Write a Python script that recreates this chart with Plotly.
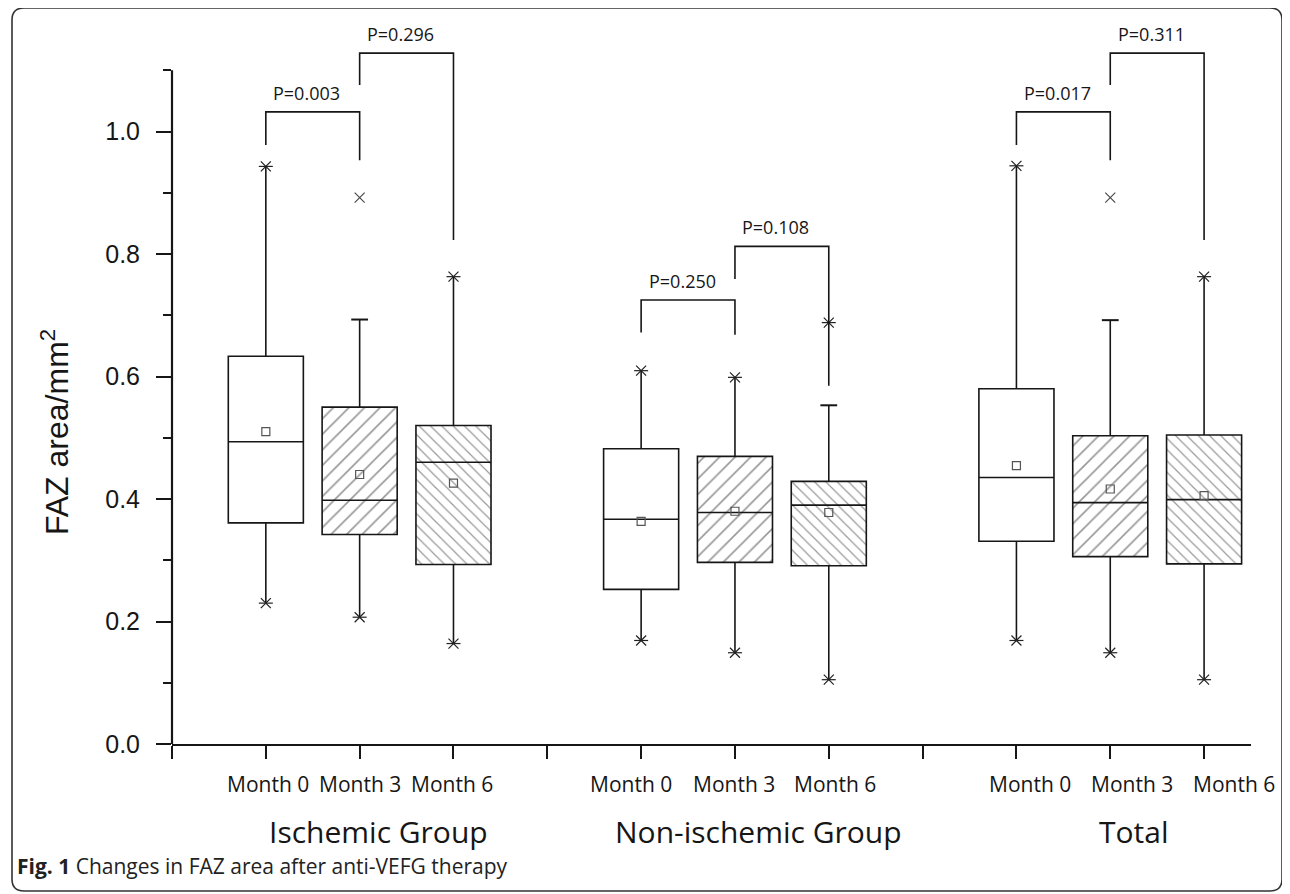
import plotly.graph_objects as go

# ---------------- data ----------------
groups = ["Ischemic Group", "Non-ischemic Group", "Total"]
months = ["Month 0", "Month 3", "Month 6"]

q1 = [0.361, 0.342, 0.293, 0.2525, 0.2965, 0.291, 0.331, 0.306, 0.294]
median = [0.4935, 0.398, 0.460, 0.367, 0.378, 0.390, 0.435, 0.394, 0.399]
q3 = [0.633, 0.550, 0.520, 0.482, 0.4696, 0.4288, 0.580, 0.5033, 0.5045]
mean = [0.510, 0.440, 0.426, 0.3635, 0.380, 0.378, 0.4544, 0.4163, 0.4054]
whisk_lo = [0.230, 0.207, 0.164, 0.169, 0.149, 0.105, 0.169, 0.149, 0.105]
whisk_hi = [0.943, 0.693, 0.763, 0.6095, 0.5986, 0.553, 0.944, 0.692, 0.763]
hi_is_cap = [False, True, False, False, False, True, False, True, False]

# extra points beyond whiskers: (box index, value, kind)
extra_box = [1, 5, 7]
extra_val = [0.892, 0.688, 0.892]
extra_kind = ["x", "star", "x"]

# significance brackets
p_text = ["P=0.003", "P=0.296", "P=0.250", "P=0.108", "P=0.017", "P=0.311"]
p_left = [0, 1, 3, 4, 6, 7]     # box index of left leg
p_right = [1, 2, 4, 5, 7, 8]    # box index of right leg
p_top = [1.032, 1.128, 0.725, 0.8125, 1.032, 1.128]
p_left_end = [0.978, 1.076, 0.672, 0.759, 0.978, 1.076]
p_right_end = [0.953, 0.823, 0.668, 0.585, 0.953, 0.823]

y_ticks = [0.0, 0.2, 0.4, 0.6, 0.8, 1.0]
y_minor = [0.1, 0.3, 0.5, 0.7, 0.9, 1.1]
y_axis_top = 1.1

# ---------------- layout geometry ----------------
# the page places the figure 8 px from the top-left corner of the window
OFF = 8
FW, FH = 1290 - OFF, 894 - OFF
L, R, T, B = 172 - OFF, 39, 9 - OFF, 150
PW, PH = FW - L - R, FH - T - B


def pxx(x):
    """window pixel x -> paper x"""
    return (x - OFF - L) / PW


def pxy(y):
    """window pixel y -> paper y"""
    return (FH - B - (y - OFF)) / PH


GROUP_GAP = 4
pos = [g * GROUP_GAP + m for g in range(len(groups)) for m in range(len(months))]
sep = [g * GROUP_GAP - 1 for g in range(len(groups))]
HALF = 0.4
INK = "#161616"

hatch = ["", "/", "\\"] * len(groups)
hatch_size = [10, 11, 8] * len(groups)

fig = go.Figure()

# boxes (hatched bars from q1 to q3)
fig.add_trace(go.Bar(
    x=pos, y=[b - a for a, b in zip(q1, q3)], base=q1, width=2 * HALF,
    marker=dict(color="white", line=dict(color=INK, width=1.6),
                pattern=dict(shape=hatch, size=hatch_size, solidity=0.15,
                             fgcolor="#333333", bgcolor="white", fillmode="overlay")),
    hoverinfo="skip"))

# medians
mx, my = [], []
for p, m in zip(pos, median):
    mx += [p - HALF, p + HALF, None]
    my += [m, m, None]
fig.add_trace(go.Scatter(x=mx, y=my, mode="lines", line=dict(color=INK, width=1.6),
                         hoverinfo="skip"))

# whiskers
wx, wy = [], []
for p, a, b, lo, hi in zip(pos, q1, q3, whisk_lo, whisk_hi):
    wx += [p, p, None, p, p, None]
    wy += [b, hi, None, a, lo, None]
fig.add_trace(go.Scatter(x=wx, y=wy, mode="lines", line=dict(color=INK, width=1.6),
                         hoverinfo="skip"))

# whisker end markers
star_x = list(pos)
star_y = list(whisk_lo)
cap_x, cap_y = [], []
for p, hi, c in zip(pos, whisk_hi, hi_is_cap):
    if c:
        cap_x.append(p)
        cap_y.append(hi)
    else:
        star_x.append(p)
        star_y.append(hi)
xo_x, xo_y = [], []
for i, v, k in zip(extra_box, extra_val, extra_kind):
    if k == "star":
        star_x.append(pos[i])
        star_y.append(v)
    else:
        xo_x.append(pos[i])
        xo_y.append(v)

for sym in ["x-thin-open", "line-ew-open"]:
    fig.add_trace(go.Scatter(x=star_x, y=star_y, mode="markers",
                             marker=dict(symbol=sym, size=10, color="#222",
                                         line=dict(color="#222", width=1.2)),
                             hoverinfo="skip"))
fig.add_trace(go.Scatter(x=xo_x, y=xo_y, mode="markers",
                         marker=dict(symbol="x-thin-open", size=10, color="#444",
                                     line=dict(color="#444", width=1.1)),
                         hoverinfo="skip"))
fig.add_trace(go.Scatter(x=cap_x, y=cap_y, mode="markers",
                         marker=dict(symbol="line-ew-open", size=12, color=INK,
                                     line=dict(color=INK, width=2)),
                         hoverinfo="skip"))

# means
fig.add_trace(go.Scatter(x=pos, y=mean, mode="markers",
                         marker=dict(symbol="square-open", size=8, color="#555",
                                     line=dict(color="#555", width=1.2)),
                         hoverinfo="skip"))

# brackets
bx, by = [], []
for li, ri, top, le, re_ in zip(p_left, p_right, p_top, p_left_end, p_right_end):
    bx += [pos[li], pos[li], pos[ri], pos[ri], None]
    by += [le, top, top, re_, None]
fig.add_trace(go.Scatter(x=bx, y=by, mode="lines", line=dict(color=INK, width=1.6),
                         hoverinfo="skip"))

annotations = []
for t, li, ri, top in zip(p_text, p_left, p_right, p_top):
    annotations.append(dict(x=(pos[li] + pos[ri]) / 2, y=top, xref="x", yref="y",
                            text=t, showarrow=False, yanchor="middle", xshift=-6, yshift=19,
                            font=dict(family="Open Sans", size=18, color=INK)))

# month labels (placed under each box)
month_shift = [2, 0, -1, -10, -1, 6, 14, 22, 30]
for i, p in enumerate(pos):
    annotations.append(dict(x=p, y=pxy(784), xref="x", yref="paper",
                            text=months[i % len(months)], showarrow=False,
                            yanchor="middle", xshift=month_shift[i],
                            font=dict(family="Open Sans", size=21, color=INK)))

# group labels
group_shift = [19, 24, 24]
for g, name in enumerate(groups):
    annotations.append(dict(x=g * GROUP_GAP + 1, y=pxy(831), xref="x", yref="paper",
                            text=name, showarrow=False, yanchor="middle",
                            xshift=group_shift[g],
                            font=dict(family="Open Sans", size=30, color=INK)))

# y-axis title
annotations.append(dict(x=pxx(55), y=pxy(432), xref="paper", yref="paper",
                        text="FAZ area/mm<sup>2</sup>", textangle=-90, showarrow=False,
                        xanchor="center", yanchor="middle",
                        font=dict(family="Liberation Sans", size=32, color=INK)))

# caption
annotations.append(dict(x=pxx(15), y=pxy(866), xref="paper", yref="paper",
                        text="<b>Fig. 1</b> Changes in FAZ area after anti-VEFG therapy",
                        showarrow=False, xanchor="left", yanchor="middle",
                        font=dict(family="Open Sans", size=21, color="#222")))

# frame with rounded corners
x0, y0, x1, y1, r = 12, 8, 1282, 891, 12


def P(x, y):
    return f"{pxx(x):.5f},{pxy(y):.5f}"


frame_path = (f"M{P(x0 + r, y0)} L{P(x1 - r, y0)} Q{P(x1, y0)} {P(x1, y0 + r)} "
              f"L{P(x1, y1 - r)} Q{P(x1, y1)} {P(x1 - r, y1)} "
              f"L{P(x0 + r, y1)} Q{P(x0, y1)} {P(x0, y1 - r)} "
              f"L{P(x0, y0 + r)} Q{P(x0, y0)} {P(x0 + r, y0)} Z")

shapes = [
    dict(type="path", path=frame_path, xref="paper", yref="paper",
         line=dict(color="#333", width=1.6)),
    dict(type="line", xref="paper", yref="y", x0=0, x1=0, y0=0, y1=y_axis_top,
         line=dict(color=INK, width=2.2)),
]

fig.update_layout(
    width=FW, height=FH,
    margin=dict(l=L, r=R, t=T, b=B),
    plot_bgcolor="white", paper_bgcolor="white",
    showlegend=False,
    annotations=annotations,
    shapes=shapes,
    xaxis=dict(range=[-1, 10.5], showgrid=False, zeroline=False,
               showline=True, linecolor=INK, linewidth=2.2,
               tickmode="array", tickvals=sorted(pos + sep),
               ticks="outside", ticklen=13, tickwidth=2.2, tickcolor=INK,
               showticklabels=False),
    yaxis=dict(range=[0, 1.2], showgrid=False, zeroline=False, showline=False,
               tickmode="array", tickvals=y_ticks,
               ticktext=[f"{v:.1f}" for v in y_ticks],
               ticks="outside", ticklen=15, tickwidth=2.2, tickcolor=INK,
               ticklabelstandoff=11,
               tickfont=dict(family="Liberation Sans", size=25, color=INK),
               minor=dict(tickmode="array", tickvals=y_minor, ticks="outside",
                          ticklen=8, tickwidth=2.2, tickcolor=INK, showgrid=False)),
)

fig.write_html("out.html")
